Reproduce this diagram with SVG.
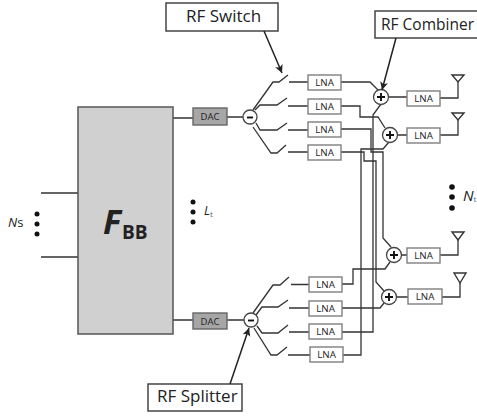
<svg xmlns="http://www.w3.org/2000/svg" width="477" height="418" viewBox="0 0 477 418">
<style>
text{font-family:"Open Sans","Noto Sans","Liberation Sans",sans-serif;fill:#222}
.w{fill:none;stroke:#333;stroke-width:1.3}
.lna{fill:#fff;stroke:#7f7f7f;stroke-width:1.4}
.lt{font-size:9.8px;text-anchor:middle}
.dac{fill:#a6a6a6;stroke:#666;stroke-width:1.4}
.dt{font-size:9.5px;text-anchor:middle}
.c{fill:#fff;stroke:#444;stroke-width:1.3}
.s{stroke:#111;stroke-width:1.9;fill:none}
.call{fill:#fff;stroke:#444;stroke-width:1.5}
.ct{font-size:17px}
.a{fill:none;stroke:#333;stroke-width:1.4}
.d{fill:#111}
.arr{stroke:#222;stroke-width:1.5;fill:none;marker-end:url(#h)}
</style>
<defs>
<marker id="h" markerWidth="9" markerHeight="9" refX="8" refY="4" orient="auto" markerUnits="userSpaceOnUse"><path d="M0,0L8,4L0,8L2,4Z" fill="#222"/></marker>
</defs>
<g id="connectors">
<path class="w" d="M41 193H78M41 257H78M173 118H193M173 320H193M227 117H243M227 320H244"/>
<path class="w" d="M253 110L273 82H279L288 75M289 82H308M255 110L260 105H277L287 98M288 106H308M256 123L260 130H277L287 123M288 130H308M253 127L271 153H277L286 145M288 152H308"/>
<path class="w" d="M253 313L273 285H280L289 277M291 284.500H309M256 315L262 307H278L288 300M289 308H309M257 326L262 333H278L288 325M289 332H309M254 328L271 355H277L287 347M288 355H310"/>
<path class="w" d="M341 82H370L378 90M341 106H360V117H378L385 128M341 129H371V152H383V238L391 247M341 152H364V161H376V282L384 291"/>
<path class="w" d="M343 355H361V149H383L389 142M342 332H373V115L381 104M342 284H353V269H385L390 262M342 308H380L384 303"/>
<path class="w" d="M389 97H407M398 135H407M402 255H407M397 297H408"/>
<path class="w" d="M440 98H458V82M440 135H458V120M440 255H458V240M442 297H460V283"/>
</g>
<g id="fbb"><rect x="78" y="107" width="95" height="227" fill="#d0d0d0" stroke="#555" stroke-width="1.5"/>
<text x="103" y="234" font-size="34" font-weight="700" font-style="italic">F</text><text x="122" y="239" font-size="19" font-weight="700">BB</text></g>
<g id="ns"><text x="8" y="227" font-size="13"><tspan font-style="italic">N</tspan>s</text><circle class="d" cx="37" cy="214" r="2.500"/><circle class="d" cx="37" cy="224" r="2.500"/><circle class="d" cx="37" cy="234" r="2.500"/></g>
<g id="lt"><circle class="d" cx="193" cy="202" r="2.500"/><circle class="d" cx="193" cy="212" r="2.500"/><circle class="d" cx="193" cy="222" r="2.500"/><text x="204" y="215" font-size="12.500" font-style="italic">L<tspan font-size="8" font-style="normal" dy="2" style="fill:#6a5a4a">t</tspan></text></g>
<g id="nt"><circle class="d" cx="452" cy="187" r="2.800"/><circle class="d" cx="452" cy="197" r="2.800"/><circle class="d" cx="452" cy="208" r="2.800"/><text x="463" y="201" font-size="15" font-style="italic">N<tspan font-size="8" font-style="normal" dy="1" style="fill:#3f6fa8">t</tspan></text></g>
<g id="dac1"><rect class="dac" x="193" y="108" width="34" height="17"/><text class="dt" x="210" y="120">DAC</text></g>
<g id="dac2"><rect class="dac" x="193" y="313" width="34" height="16"/><text class="dt" x="210" y="325">DAC</text></g>
<g id="split1"><circle class="c" cx="250" cy="117" r="7"/><path class="s" d="M247 117.500H253"/></g>
<g id="split2"><circle class="c" cx="251" cy="320" r="7"/><path class="s" d="M248 320.500H254"/></g>
<g id="lna1"><rect class="lna" x="308" y="75" width="33" height="15"/><text class="lt" x="324.500" y="86">LNA</text></g>
<g id="lna2"><rect class="lna" x="308" y="99" width="33" height="15"/><text class="lt" x="324.500" y="110">LNA</text></g>
<g id="lna3"><rect class="lna" x="308" y="122" width="33" height="15"/><text class="lt" x="324.500" y="133">LNA</text></g>
<g id="lna4"><rect class="lna" x="308" y="145" width="33" height="15"/><text class="lt" x="324.500" y="156">LNA</text></g>
<g id="lna5"><rect class="lna" x="309" y="277" width="33" height="15"/><text class="lt" x="325.500" y="288">LNA</text></g>
<g id="lna6"><rect class="lna" x="309" y="301" width="33" height="15"/><text class="lt" x="325.500" y="312">LNA</text></g>
<g id="lna7"><rect class="lna" x="309" y="324" width="33" height="15"/><text class="lt" x="325.500" y="335">LNA</text></g>
<g id="lna8"><rect class="lna" x="310" y="347" width="33" height="15"/><text class="lt" x="326.500" y="358">LNA</text></g>
<g id="lna9"><rect class="lna" x="407" y="91" width="33" height="15"/><text class="lt" x="423.500" y="102">LNA</text></g>
<g id="lna10"><rect class="lna" x="407" y="128" width="33" height="15"/><text class="lt" x="423.500" y="139">LNA</text></g>
<g id="lna11"><rect class="lna" x="407" y="248" width="33" height="15"/><text class="lt" x="423.500" y="259">LNA</text></g>
<g id="lna12"><rect class="lna" x="408" y="289" width="34" height="15"/><text class="lt" x="425" y="300">LNA</text></g>
<g id="comb1"><circle class="c" cx="381" cy="97" r="7.500"/><path class="s" d="M377 97H385M381 93V101" stroke-width="1.400"/></g>
<g id="comb2"><circle class="c" cx="390" cy="135" r="7.500"/><path class="s" d="M386 135H394M390 131V139"/></g>
<g id="comb3"><circle class="c" cx="394" cy="255" r="7.500"/><path class="s" d="M390 255H398M394 251V259"/></g>
<g id="comb4"><circle class="c" cx="389" cy="297" r="7.500"/><path class="s" d="M385 297H393M389 293V301"/></g>
<g id="ant1"><path class="a" d="M452 75H464L458 82Z"/></g>
<g id="ant2"><path class="a" d="M452 113H464L458 120Z"/></g>
<g id="ant3"><path class="a" d="M452 232H464L458 240Z"/></g>
<g id="ant4"><path class="a" d="M454 273H466L460 283Z"/></g>
<g id="rf-switch"><rect class="call" x="166" y="3" width="112" height="28"/><text class="ct" x="186" y="22">RF Switch</text><path class="arr" d="M264 31L282 73"/></g>
<g id="rf-combiner"><rect class="call" x="375" y="11" width="110" height="27"/><text x="381" y="30" font-size="15.500">RF Combiner</text><path class="arr" d="M396 38L382 90"/></g>
<g id="rf-splitter"><rect class="call" x="148" y="384" width="94" height="27"/><text class="ct" x="157" y="402">RF Splitter</text><path class="arr" d="M230 384L249 328"/></g>
</svg>
